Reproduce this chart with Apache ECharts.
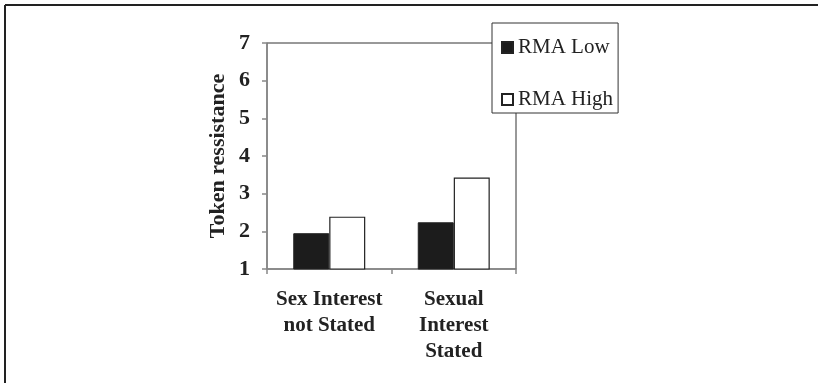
<!DOCTYPE html>
<html>
<head>
<meta charset="utf-8">
<script src="https://cdn.jsdelivr.net/npm/echarts@6/dist/echarts.min.js"></script>
<style>
html,body{margin:0;padding:0;background:#fff;}
#chart{width:818px;height:383px;}
</style>
</head>
<body>
<div id="chart"></div>
<script>
const categories = ['Sex Interest\nnot Stated', 'Sexual\nInterest\nStated'];
const seriesNames = ['RMA Low', 'RMA High'];
const rmaLow = [1.95, 2.24];
const rmaHigh = [2.39, 3.43];
const yTicks = [1, 2, 3, 4, 5, 6, 7];

const serif = '"Liberation Serif", "Times New Roman", serif';
const chart = echarts.init(document.getElementById('chart'), null, {renderer: 'canvas'});
chart.setOption({
  animation: false,
  backgroundColor: '#fff',
  graphic: [
    {type: 'line', shape: {x1: 5, y1: 5, x2: 818, y2: 5}, style: {stroke: '#222', lineWidth: 2}},
    {type: 'line', shape: {x1: 5, y1: 5, x2: 5, y2: 383}, style: {stroke: '#222', lineWidth: 2}}
  ],
  grid: {
    left: 267, top: 43, width: 249, height: 226,
    show: true, borderColor: '#333', borderWidth: 1, backgroundColor: 'transparent'
  },
  legend: {
    data: seriesNames,
    orient: 'vertical',
    left: 492, top: 23,
    padding: [14, 5, 3, 9],
    itemGap: 31,
    itemWidth: 11, itemHeight: 11,
    icon: 'rect',
    backgroundColor: '#fff',
    borderColor: '#333', borderWidth: 1,
    textStyle: {fontFamily: serif, fontSize: 21, color: '#222'}
  },
  xAxis: {
    type: 'category',
    data: categories,
    axisLine: {lineStyle: {color: '#888', width: 1.5}},
    axisTick: {show: true, length: 5, lineStyle: {color: '#888', width: 1.5}},
    axisLabel: {interval: 0, hideOverlap: false, fontFamily: serif, fontWeight: 'bold', fontSize: 21, color: '#222', lineHeight: 26, margin: 18}
  },
  yAxis: {
    type: 'value',
    min: yTicks[0], max: yTicks[yTicks.length - 1], interval: 1,
    name: 'Token ressistance',
    nameLocation: 'middle',
    nameGap: 38,
    nameRotate: 90,
    nameTextStyle: {fontFamily: serif, fontWeight: 'bold', fontSize: 22, color: '#222'},
    axisLine: {show: true, lineStyle: {color: '#888', width: 1.5}},
    axisTick: {show: true, length: 5, lineStyle: {color: '#888', width: 1.5}},
    splitLine: {show: false},
    axisLabel: {fontFamily: serif, fontWeight: 'bold', fontSize: 22, color: '#222', margin: 17}
  },
  series: [
    {name: seriesNames[0], type: 'bar', data: rmaLow, barWidth: 36, barGap: '0%',
     itemStyle: {color: '#1c1c1c', borderColor: '#222', borderWidth: 1}},
    {name: seriesNames[1], type: 'bar', data: rmaHigh, barWidth: 36, barGap: '0%',
     itemStyle: {color: '#fff', borderColor: '#222', borderWidth: 1.2}}
  ]
});
</script>
</body>
</html>
